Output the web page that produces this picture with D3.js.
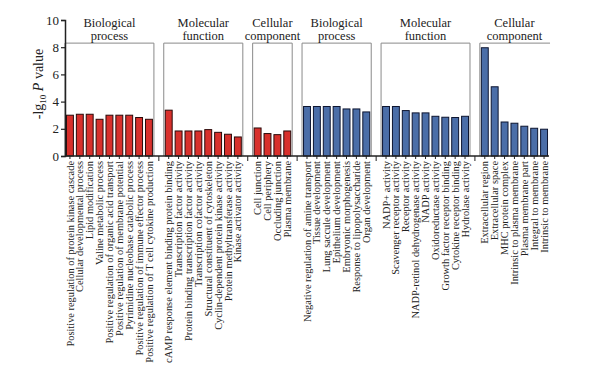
<!DOCTYPE html>
<html lang="en">
<head>
    <meta charset="UTF-8">
    <script src="https://cdnjs.cloudflare.com/ajax/libs/d3/7.8.5/d3.min.js"></script>
    <style>
        body { margin: 0; background: #fff; }
        text { font-family: "Liberation Serif", "DejaVu Serif", serif; fill: #222; }
    </style>
</head>
<body>
    <svg id="chart" width="592" height="367"></svg>
    <script>
        // group titles (two lines each)
        const groupTitles = [
            ["Biological", "process"], ["Molecular", "function"], ["Cellular", "component"],
            ["Biological", "process"], ["Molecular", "function"], ["Cellular", "component"]
        ];
        // which set each group belongs to (0 = red, 1 = blue)
        const groupSet = [0, 0, 0, 1, 1, 1];

        const redBP = ["Positive regulation of protein kinase cascade", "Cellular developmental process",
            "Lipid modification", "Valine metabolic process", "Positive regulation of organic acid transport",
            "Positive regulation of membrane potential", "Pyrimidine nucleobase catabolic process",
            "Positive regulation of immune effector process", "Positive regulation of T cell cytokine production"];
        const redBPValues = [3.0, 3.07, 3.07, 2.7, 3.0, 3.0, 3.0, 2.83, 2.7];

        const redMF = ["cAMP response element binding protein binding", "Transcription factor activity",
            "Protein binding transcription factor activity", "Transcription cofactor activity",
            "Structural constituent of cytoskeleton", "Cyclin-dependent protein kinase activity",
            "Protein methyltransferase activity", "Kinase activator activity"];
        const redMFValues = [3.37, 1.84, 1.84, 1.84, 1.94, 1.74, 1.6, 1.4];

        const redCC = ["Cell junction", "Cell periphery", "Occluding junction", "Plasma membrane"];
        const redCCValues = [2.06, 1.65, 1.57, 1.84];

        const blueBP = ["Negative regulation of amine transport", "Tissue development", "Lung saccule development",
            "Epithelium development", "Embryonic morphogenesis", "Response to lipopolysaccharide", "Organ development"];
        const blueBPValues = [3.64, 3.64, 3.64, 3.64, 3.46, 3.46, 3.24];

        const blueMF = ["NADP+ activity", "Scavenger receptor activity", "Receptor activity",
            "NADP-retinol dehydrogenase activity", "NADP activity", "Oxidoreductase activity",
            "Growth factor receptor binding", "Cytokine receptor binding", "Hydrolase activity"];
        const blueMFValues = [3.64, 3.64, 3.34, 3.17, 3.17, 2.92, 2.85, 2.83, 2.92];

        const blueCC = ["Extracellular region", "Extracellular space", "MHC protein complex",
            "Intrinsic to plasma membrane", "Plasma membrane part", "Integral to membrane", "Intrinsic to membrane"];
        const blueCCValues = [7.96, 5.09, 2.5, 2.41, 2.19, 2.04, 1.97];

        const yTicks = [0, 2, 4, 6, 8, 10];

        const groupCats = [redBP, redMF, redCC, blueBP, blueMF, blueCC];
        const groupVals = [redBPValues, redMFValues, redCCValues, blueBPValues, blueMFValues, blueCCValues];
        const fills = ["#d8302c", "#4b6ea8"];
        const strokes = ["#2a0a0a", "#0d1530"];

        // flatten into bars with one empty slot between groups
        const bars = [], domain = [];
        groupCats.forEach((cats, g) => {
            if (g > 0) domain.push("gap" + g);
            cats.forEach((c, i) => {
                const key = g + ":" + i;
                domain.push(key);
                bars.push({ key, label: c, value: groupVals[g][i], group: g });
            });
        });

        const svg = d3.select("#chart");
        const x = d3.scaleBand().domain(domain).range([65, 549]).paddingInner(0.3).paddingOuter(0.15);
        const y = d3.scaleLinear().domain([0, 10]).range([156, 20]);

        // group boxes
        groupCats.forEach((cats, g) => {
            const x0 = x(g + ":0") - 1.5;
            const x1 = x(g + ":" + (cats.length - 1)) + x.bandwidth() + 1.5;
            const top = y(8.3);
            const pts = g === 5
                ? [[x0, y(0)], [x0, top], [x1 + 1, top]]
                : [[x0, y(0)], [x0, top], [x1, top], [x1, y(0)]];
            svg.append("path")
                .attr("d", d3.line()(pts))
                .attr("fill", "none")
                .attr("stroke", "#8a8a8a")
                .attr("stroke-width", 1);
            const cx = (x0 + x1) / 2;
            svg.append("text").attr("x", cx).attr("y", 27).attr("text-anchor", "middle")
                .attr("font-size", 12.5).text(groupTitles[g][0]);
            svg.append("text").attr("x", cx).attr("y", 40).attr("text-anchor", "middle")
                .attr("font-size", 12.5).text(groupTitles[g][1]);
        });

        // bars
        svg.selectAll("rect.bar")
            .data(bars)
            .enter()
            .append("rect")
            .attr("class", "bar")
            .attr("x", d => x(d.key))
            .attr("y", d => y(d.value))
            .attr("width", x.bandwidth())
            .attr("height", d => y(0) - y(d.value))
            .attr("fill", d => fills[groupSet[d.group]])
            .attr("stroke", d => strokes[groupSet[d.group]])
            .attr("stroke-width", 1);

        // y axis
        const yAxis = d3.axisLeft(y).tickValues(yTicks).tickSize(4).tickFormat(d3.format("d"));
        const yG = svg.append("g").attr("transform", "translate(65,0)").call(yAxis);
        yG.select(".domain").attr("stroke", "#222").attr("stroke-width", 1.5);
        yG.selectAll(".tick line").attr("stroke", "#222").attr("stroke-width", 1.2);
        yG.selectAll(".tick text")
            .attr("font-family", "Liberation Serif, serif")
            .attr("font-size", 13)
            .attr("fill", "#222")
            .attr("x", -6);

        // x axis (ticks at each bar) with rotated labels
        const xAxis = d3.axisBottom(x).tickSize(3).tickFormat("");
        const xG = svg.append("g").attr("transform", "translate(0,156)").call(xAxis);
        xG.select(".domain").attr("stroke", "#222").attr("stroke-width", 1.5)
            .attr("d", "M65,0H549");
        xG.selectAll(".tick line").attr("stroke", "#222");
        xG.selectAll(".tick").filter(d => d.startsWith("gap")).select("line").attr("y2", 5);

        svg.selectAll("text.cat")
            .data(bars)
            .enter()
            .append("text")
            .attr("class", "cat")
            .attr("transform", d => `translate(${x(d.key) + x.bandwidth() / 2 + 3.6},161) rotate(-90)`)
            .attr("text-anchor", "end")
            .attr("font-size", 10.4)
            .text(d => d.label);

        // y axis title: -lg10 P value
        const title = svg.append("text")
            .attr("transform", "translate(43,84) rotate(-90)")
            .attr("text-anchor", "middle")
            .attr("font-size", 14);
        title.append("tspan").text("-lg");
        title.append("tspan").attr("font-size", 9).attr("dy", 3).text("10");
        title.append("tspan").attr("dy", -3).text(" ");
        title.append("tspan").attr("font-style", "italic").text("P");
        title.append("tspan").text(" value");
    </script>
</body>
</html>
